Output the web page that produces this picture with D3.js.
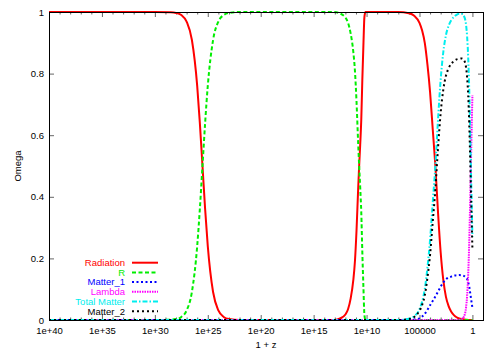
<!doctype html>
<html>
<head>
<meta charset="utf-8">
<style>
  body { margin: 0; background: #fff; }
  text { font-family: "Liberation Sans", Arial, Helvetica, sans-serif; font-size: 9.5px; }
</style>
<script src="https://cdn.jsdelivr.net/npm/d3@7"></script>
</head>
<body>
<div id="chart"></div>
<script>
// log10(1+z) of the points
var logZ = [40, 30, 28.5, 28, 27.5, 27, 26.5, 26, 25.75, 25.5,
            25.25, 25, 24.5, 24, 23.5, 23, 22, 13, 12.5, 12,
            11.75, 11.5, 11.25, 11.1, 10.95, 10.8, 10.7, 10.6, 10.5, 10.4,
            10.3, 10.2, 10.1, 10, 7, 6, 5.5, 5, 4.75, 4.5,
            4.25, 4, 3.75, 3.5, 3.25, 3, 2.75, 2.5, 2.25, 2,
            1.75, 1.5, 1.25, 1, 0.8, 0.6, 0.5, 0.4, 0.3, 0.2,
            0.1, 0];

var radiation = [1, 1, 0.999, 0.997, 0.99, 0.969, 0.909, 0.76, 0.64, 0.5,
                 0.36, 0.24, 0.091, 0.031, 0.01, 0.003, 0, 0, 0.005, 0.018,
                 0.035, 0.07, 0.13, 0.19, 0.29, 0.42, 0.5, 0.57, 0.65, 0.78,
                 0.89, 0.985, 1, 1, 1, 0.996, 0.988, 0.965, 0.94, 0.9,
                 0.83, 0.74, 0.62, 0.5, 0.35, 0.22, 0.13, 0.075, 0.045, 0.027,
                 0.016, 0.009, 0.005, 0.003, 0.002, 0.001, 0.001, 0, 0, 0,
                 0, 0];

var rComp = [0, 0, 0.001, 0.003, 0.01, 0.031, 0.091, 0.24, 0.36, 0.5,
             0.64, 0.76, 0.909, 0.969, 0.99, 0.997, 1, 1, 0.995, 0.982,
             0.965, 0.93, 0.87, 0.81, 0.71, 0.58, 0.5, 0.43, 0.35, 0.22,
             0.11, 0.015, 0, 0, 0, 0, 0, 0, 0, 0,
             0, 0, 0, 0, 0, 0, 0, 0, 0, 0,
             0, 0, 0, 0, 0, 0, 0, 0, 0, 0,
             0, 0];

var matter1 = [0, 0, 0, 0, 0, 0, 0, 0, 0, 0,
               0, 0, 0, 0, 0, 0, 0, 0, 0, 0,
               0, 0, 0, 0, 0, 0, 0, 0, 0, 0,
               0, 0, 0, 0, 0, 0.001, 0.002, 0.005, 0.011, 0.02,
               0.033, 0.048, 0.062, 0.076, 0.092, 0.108, 0.122, 0.132, 0.138, 0.141,
               0.144, 0.145, 0.146, 0.145, 0.143, 0.138, 0.133, 0.123, 0.108, 0.086,
               0.062, 0.04];

var lambda = [0, 0, 0, 0, 0, 0, 0, 0, 0, 0,
              0, 0, 0, 0, 0, 0, 0, 0, 0, 0,
              0, 0, 0, 0, 0, 0, 0, 0, 0, 0,
              0, 0, 0, 0, 0, 0, 0, 0, 0, 0,
              0, 0, 0, 0, 0, 0, 0, 0, 0, 0,
              0, 0, 0.0005, 0.003, 0.011, 0.041, 0.079, 0.146, 0.254, 0.405,
              0.575, 0.73];

var totalMatter = [0, 0, 0, 0, 0, 0, 0, 0, 0, 0,
                   0, 0, 0, 0, 0, 0, 0, 0, 0, 0,
                   0, 0, 0, 0, 0, 0, 0, 0, 0, 0,
                   0, 0, 0, 0, 0, 0.004, 0.012, 0.035, 0.06, 0.1,
                   0.17, 0.26, 0.38, 0.5, 0.65, 0.78, 0.87, 0.925, 0.955, 0.973,
                   0.984, 0.991, 0.994, 0.994, 0.987, 0.958, 0.92, 0.854, 0.746, 0.595,
                   0.425, 0.27];

var matter2 = [0, 0, 0, 0, 0, 0, 0, 0, 0, 0,
               0, 0, 0, 0, 0, 0, 0, 0, 0, 0,
               0, 0, 0, 0, 0, 0, 0, 0, 0, 0,
               0, 0, 0, 0, 0, 0.003, 0.01, 0.03, 0.049, 0.08,
               0.137, 0.212, 0.318, 0.424, 0.558, 0.672, 0.748, 0.793, 0.817, 0.832,
               0.84, 0.846, 0.848, 0.849, 0.844, 0.82, 0.787, 0.731, 0.638, 0.509,
               0.363, 0.23];

var xTicks = [1e40, 1e35, 1e30, 1e25, 1e20, 1e15, 1e10, 1e5, 1];
var xTickLabels = ["1e+40", "1e+35", "1e+30", "1e+25", "1e+20", "1e+15", "1e+10", "100000", "1"];
var yTicks = [0, 0.2, 0.4, 0.6, 0.8, 1];
var yTickLabels = ["0", "0.2", "0.4", "0.6", "0.8", "1"];

var seriesNames = ["Radiation", "R", "Matter_1", "Lambda", "Total Matter", "Matter_2"];
var seriesValues = [radiation, rComp, matter1, lambda, totalMatter, matter2];

var width = 500, height = 350;
var plotLeft = 49, plotRight = 483, plotTop = 12, plotBottom = 320;

var colors = ["#ff0000", "#00ee00", "#0000ff", "#ff00ff", "#00eeee", "#000000"];
var dashes = [null, "4,2.5", "2,2.5", "1.5,1", "5,2,1.5,2", "2,3"];

var svg = d3.select("#chart").append("svg")
            .attr("width", width)
            .attr("height", height);

var x = d3.scaleLog().domain([1e40, 0.1]).range([plotLeft, plotRight]);
var y = d3.scaleLinear().domain([0, 1]).range([plotBottom, plotTop]);

// minor ticks every decade
var minorTicks = d3.range(0, 40).map(function(e) { return Math.pow(10, e); })
                   .filter(function(v) { return xTicks.indexOf(v) < 0; });

function styleAxis(g) {
  g.select(".domain").remove();
  g.selectAll(".tick line").attr("stroke", "#666");
  g.selectAll(".tick text").attr("fill", "#000")
   .style("font-family", "\"Liberation Sans\", Arial, sans-serif").style("font-size", "9.5px");
}

svg.append("g").attr("transform", "translate(0," + plotBottom + ")")
   .call(d3.axisBottom(x).tickValues(xTicks).tickSize(-5).tickPadding(7)
           .tickFormat(function(d, i) { return xTickLabels[i]; }))
   .call(styleAxis);
svg.append("g").attr("transform", "translate(0," + plotBottom + ")")
   .call(d3.axisBottom(x).tickValues(minorTicks).tickSize(-2.5).tickFormat(""))
   .call(styleAxis);
svg.append("g").attr("transform", "translate(0," + plotTop + ")")
   .call(d3.axisTop(x).tickValues(xTicks).tickSize(-5).tickFormat(""))
   .call(styleAxis);
svg.append("g").attr("transform", "translate(0," + plotTop + ")")
   .call(d3.axisTop(x).tickValues(minorTicks).tickSize(-2.5).tickFormat(""))
   .call(styleAxis);
svg.append("g").attr("transform", "translate(" + plotLeft + ",0)")
   .call(d3.axisLeft(y).tickValues(yTicks).tickSize(-5).tickPadding(5)
           .tickFormat(function(d, i) { return yTickLabels[i]; }))
   .call(styleAxis);
svg.append("g").attr("transform", "translate(" + plotRight + ",0)")
   .call(d3.axisRight(y).tickValues(yTicks).tickSize(-5).tickFormat(""))
   .call(styleAxis);

// curves
var line = d3.line()
  .x(function(d) { return x(Math.pow(10, d[0])); })
  .y(function(d) { return y(d[1]); })
  .curve(d3.curveMonotoneX);

seriesValues.forEach(function(vals, s) {
  var pts = logZ.map(function(l, i) { return [l, vals[i]]; });
  svg.append("path")
     .datum(pts)
     .attr("d", line)
     .attr("fill", "none")
     .attr("stroke", colors[s])
     .attr("stroke-width", 2)
     .attr("stroke-dasharray", dashes[s]);
});

// border
svg.append("rect")
   .attr("x", plotLeft).attr("y", plotTop)
   .attr("width", plotRight - plotLeft).attr("height", plotBottom - plotTop)
   .attr("fill", "none").attr("stroke", "#000").attr("stroke-width", 1)
   .attr("shape-rendering", "crispEdges");

// legend
var legend = svg.append("g").attr("class", "legend");
seriesNames.forEach(function(name, i) {
  var ly = 262.7 + i * 9.7;
  legend.append("text")
        .attr("x", 125).attr("y", ly).attr("dy", "0.35em")
        .attr("text-anchor", "end")
        .attr("fill", colors[i])
        .text(name);
  legend.append("line")
        .attr("x1", 132).attr("x2", 158).attr("y1", ly).attr("y2", ly)
        .attr("stroke", colors[i]).attr("stroke-width", 2)
        .attr("stroke-dasharray", dashes[i]);
});

// axis labels
svg.append("text")
   .attr("x", (plotLeft + plotRight) / 2).attr("y", 348)
   .attr("text-anchor", "middle")
   .text("1 + z");
svg.append("text")
   .attr("transform", "translate(18,166) rotate(-90)")
   .attr("text-anchor", "middle").attr("dy", "0.35em")
   .text("Omega");
</script>
</body>
</html>
